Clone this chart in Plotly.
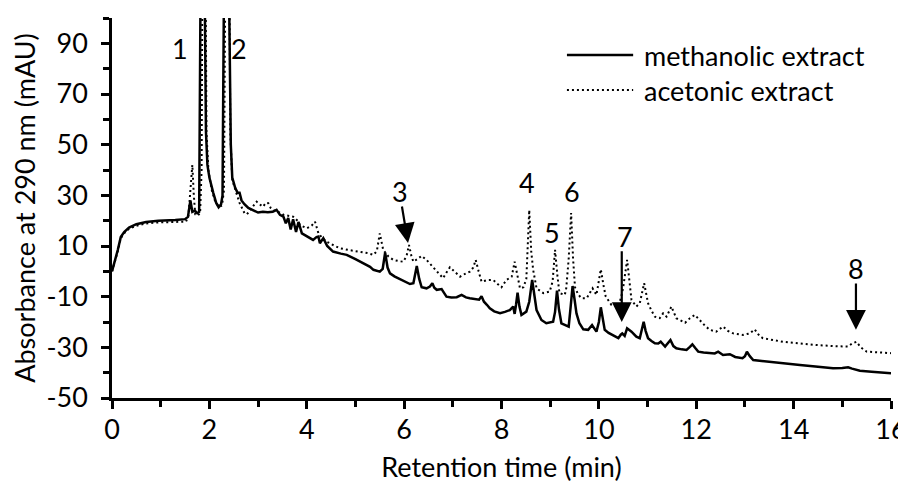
import plotly.graph_objects as go

# ---------------- data ----------------
meth_t = [0.00, 0.06, 0.12, 0.18, 0.25, 0.35, 0.50, 0.70, 0.95, 1.30, 1.50, 1.56, 1.58, 1.61, 1.65, 1.70, 1.75, 1.79,
          1.815, 1.865, 1.90, 1.93, 1.96, 2.00, 2.08, 2.14, 2.19, 2.24, 2.27, 2.35, 2.41, 2.44, 2.47, 2.53, 2.58, 2.62,
          2.66, 2.72, 2.80, 2.90, 3.00, 3.10, 3.20, 3.30, 3.38, 3.45, 3.52, 3.57, 3.62, 3.67, 3.72, 3.78, 3.83, 3.90,
          3.95, 4.05, 4.13, 4.20, 4.24, 4.27, 4.34, 4.42, 4.54, 4.70, 4.82, 5.00, 5.16, 5.30, 5.37, 5.50, 5.56, 5.61,
          5.66, 5.71, 5.80, 5.91, 6.00, 6.12, 6.19, 6.22, 6.26, 6.31, 6.36, 6.46, 6.53, 6.58, 6.62, 6.67, 6.77, 6.82,
          6.87, 6.97, 7.08, 7.18, 7.27, 7.35, 7.45, 7.54, 7.59, 7.64, 7.70, 7.76, 7.85, 7.97, 8.07, 8.17, 8.24, 8.27,
          8.30, 8.33, 8.37, 8.41, 8.51, 8.57, 8.63, 8.68, 8.72, 8.82, 8.92, 9.06, 9.10, 9.14, 9.18, 9.23, 9.33, 9.38,
          9.42, 9.46, 9.50, 9.54, 9.60, 9.68, 9.78, 9.86, 9.95, 10.00, 10.04, 10.08, 10.12, 10.20, 10.29, 10.40, 10.45,
          10.48, 10.53, 10.58, 10.67, 10.77, 10.84, 10.88, 10.92, 10.96, 11.01, 11.08, 11.15, 11.22, 11.27, 11.36,
          11.42, 11.47, 11.53, 11.59, 11.70, 11.80, 11.87, 11.92, 11.98, 12.04, 12.15, 12.28, 12.38, 12.45, 12.55,
          12.69, 12.80, 12.95, 13.00, 13.04, 13.10, 13.17, 13.30, 13.58, 14.13, 14.50, 14.81, 15.00, 15.12, 15.20,
          15.36, 15.60, 16.00]
meth_v = [0.0, 4.0, 8.5, 13.5, 15.5, 17.3, 18.6, 19.5, 20.0, 20.3, 20.6, 21.5, 24.0, 28.0, 23.5, 24.0, 23.0, 23.5,
          100.0, 250.0, 120.0, 55.0, 42.0, 37.0, 31.0, 27.0, 25.3, 26.5, 30.0, 250.0, 100.0, 50.0, 37.0, 33.0, 31.0, 31.0,
          28.0, 26.5, 25.0, 24.0, 23.2, 23.5, 23.3, 23.5, 24.3, 22.3, 21.6, 19.0, 21.0, 16.5, 20.5, 15.5, 19.5, 15.0,
          14.5, 13.5, 12.4, 13.5, 13.7, 11.1, 13.1, 10.0, 7.8, 7.0, 6.5, 4.8, 3.2, 1.8, 0.6, -0.1, 1.0, 7.4,
          1.5, -0.8, -2.0, -3.1, -3.8, -5.0, -4.7, -2.0, 2.1, -3.0, -6.3, -6.7, -6.0, -4.7, -6.5, -7.3, -7.0, -8.5,
          -10.0, -10.3, -10.2, -9.3, -10.3, -10.6, -11.0, -11.2, -9.8, -12.0, -13.2, -14.6, -15.8, -16.5, -16.0, -15.3, -13.9, -16.8,
          -13.0, -8.4, -14.0, -17.2, -15.9, -12.0, -3.4, -11.0, -15.3, -19.2, -20.5, -19.9, -16.0, -7.6, -15.0, -20.5, -21.2, -21.8,
          -14.0, -5.8, -11.0, -16.6, -20.5, -22.9, -23.1, -21.2, -23.8, -20.0, -14.2, -19.5, -23.1, -24.3, -25.1, -26.4, -25.0,
          -24.5, -25.5, -22.5, -23.8, -25.8, -26.4, -23.5, -19.9, -23.5, -26.4, -27.5, -28.4, -28.5, -27.8, -29.7,
          -28.5, -27.1, -29.5, -30.4, -30.8, -31.0, -29.8, -28.8, -30.3, -31.7, -32.0, -32.3, -32.4, -31.7, -33.0,
          -32.7, -33.8, -34.3, -33.5, -31.7, -33.5, -35.0, -35.3, -35.7, -37.0, -37.7, -38.3, -38.2, -37.9, -38.4,
          -39.2, -39.6, -40.2]

acet_t = [0.00, 0.06, 0.12, 0.18, 0.25, 0.35, 0.50, 0.70, 0.95, 1.30, 1.52, 1.57, 1.61, 1.65, 1.68, 1.71, 1.76, 1.81,
          1.84, 1.885, 1.94, 1.98, 2.05, 2.12, 2.20, 2.26, 2.30, 2.37, 2.43, 2.47, 2.52, 2.57, 2.62, 2.67, 2.72, 2.77,
          2.83, 2.90, 2.97, 3.03, 3.10, 3.16, 3.21, 3.26, 3.31, 3.40, 3.48, 3.52, 3.60, 3.67, 3.72, 3.76, 3.83, 3.86,
          4.00, 4.10, 4.17, 4.21, 4.24, 4.32, 4.41, 4.55, 4.68, 4.90, 5.09, 5.25, 5.37, 5.44, 5.50, 5.54, 5.57, 5.68,
          5.78, 5.90, 5.98, 6.05, 6.10, 6.15, 6.19, 6.27, 6.36, 6.46, 6.53, 6.60, 6.70, 6.80, 6.87, 6.94, 7.03, 7.15,
          7.25, 7.35, 7.42, 7.47, 7.53, 7.59, 7.70, 7.83, 7.92, 8.00, 8.10, 8.21, 8.27, 8.33, 8.38, 8.45, 8.51, 8.57,
          8.61, 8.65, 8.72, 8.86, 8.99, 9.05, 9.10, 9.15, 9.19, 9.30, 9.33, 9.38, 9.43, 9.47, 9.51, 9.57, 9.64, 9.75,
          9.82, 9.87, 9.95, 10.00, 10.04, 10.09, 10.14, 10.26, 10.40, 10.46, 10.50, 10.58, 10.62, 10.67, 10.77, 10.84,
          10.93, 10.97, 11.01, 11.08, 11.15, 11.25, 11.32, 11.39, 11.49, 11.59, 11.68, 11.77, 11.87, 11.97, 12.07,
          12.18, 12.28, 12.41, 12.55, 12.65, 12.76, 12.96, 13.10, 13.20, 13.30, 13.37, 13.78, 14.10, 14.47, 14.81,
          15.12, 15.20, 15.29, 15.38, 15.50, 15.75, 16.00]
acet_v = [0.0, 3.8, 8.0, 13.0, 15.0, 16.8, 18.0, 18.9, 19.3, 19.5, 19.6, 22.0, 33.0, 42.0, 30.0, 22.5, 22.0, 23.0,
          40.0, 250.0, 55.0, 40.0, 32.0, 27.5, 25.5, 26.0, 32.0, 250.0, 55.0, 36.0, 33.0, 30.0, 27.0, 25.0, 23.0, 22.5,
          24.0, 25.5, 27.5, 26.5, 25.5, 27.0, 26.9, 25.0, 24.2, 23.5, 23.0, 22.3, 22.0, 21.5, 21.6, 21.0, 19.5, 18.3,
          17.0, 18.0, 19.6, 17.0, 15.0, 13.2, 11.7, 10.3, 9.1, 8.3, 7.8, 7.2, 6.5, 8.0, 15.0, 11.0, 8.5, 5.8,
          4.5, 4.0, 3.8, 6.0, 10.4, 6.0, 3.8, 4.8, 6.1, 4.5, 3.0, 1.2, -0.8, -2.7, -0.5, 1.6, 0.0, -2.1,
          -1.0, -0.1, 1.5, 4.5, 0.0, -4.1, -3.5, -3.4, -5.0, -6.3, -3.4, -2.1, 3.8, -2.0, -6.7, -6.3, -3.0, 24.2,
          8.0, 0.6, -6.7, -8.6, -8.0, -4.0, 8.5, -2.0, -8.6, -9.3, -6.7, 5.0, 23.0, 5.0, -6.3, -9.0, -10.6, -10.6,
          -8.5, -6.7, -9.3, -4.0, 0.8, -5.0, -9.9, -13.3, -13.9, -10.0, -6.3, 4.5, -3.0, -11.3, -13.9, -12.6,
          -4.7, -9.0, -12.6, -15.5, -17.9, -18.5, -16.6, -17.9, -13.9, -18.5, -19.5, -20.3, -18.5, -17.2, -19.2,
          -21.5, -23.1, -23.8, -21.8, -23.5, -24.5, -25.1, -24.5, -22.9, -25.5, -26.4, -27.8, -28.5, -29.1, -29.5,
          -29.7, -28.5, -27.8, -30.0, -31.7, -32.0, -32.3]

series_names = ["methanolic extract", "acetonic extract"]

x_tick_vals = [0, 2, 4, 6, 8, 10, 12, 14, 16]
x_tick_text = ["0", "2", "4", "6", "8", "10", "12", "14", "16"]
y_tick_vals = [-50, -30, -10, 10, 30, 50, 70, 90]
y_tick_text = ["-50", "-30", "-10", "10", "30", "50", "70", "90"]

peak_labels = ["1", "2", "3", "4", "5", "6", "7", "8"]
peak_label_x = [1.40, 2.61, 5.91, 8.52, 9.04, 9.45, 10.53, 15.28]
peak_label_y = [87.8, 87.8, 31.4, 34.9, 15.2, 31.4, 13.6, 1.3]

arrow_tail_x = [5.95, 10.47, 15.28]
arrow_tail_y = [26.2, 8.5, -4.2]
arrow_tip_x = [6.08, 10.47, 15.28]
arrow_tip_y = [11.2, -20.0, -23.1]

FONT = "Lato, 'Open Sans', sans-serif"
FS = 27

fig = go.Figure()
fig.add_trace(go.Scatter(x=meth_t, y=meth_v, mode="lines", name=series_names[0], showlegend=False,
                         line=dict(color="black", width=2.5)))
fig.add_trace(go.Scatter(x=acet_t, y=acet_v, mode="lines", name=series_names[1], showlegend=False,
                         line=dict(color="black", width=2, dash="2px,3px")))

annotations = []
for lab, lx, ly in zip(peak_labels, peak_label_x, peak_label_y):
    annotations.append(dict(x=lx, y=ly, xref="x", yref="y", text=lab, showarrow=False,
                            font=dict(size=FS, color="black", family=FONT)))
for tx, ty, hx, hy in zip(arrow_tail_x, arrow_tail_y, arrow_tip_x, arrow_tip_y):
    annotations.append(dict(x=hx, y=hy, xref="x", yref="y", ax=tx, ay=ty, axref="x", ayref="y",
                            text="", showarrow=True, arrowhead=2, arrowsize=1.8, arrowwidth=2.2,
                            arrowcolor="black", standoff=0))

# legend (drawn as key lines + labels, Excel-style long key lines)
legend_y = [0.9026, 0.8105]
legend_dash = ["solid", "2px,3px"]
legend_width = [2.5, 2]
shapes = []
for name, ly, dash, lw in zip(series_names, legend_y, legend_dash, legend_width):
    shapes.append(dict(type="line", xref="paper", yref="paper", x0=0.584, x1=0.669, y0=ly, y1=ly,
                       line=dict(color="black", width=lw, dash=dash)))
    annotations.append(dict(x=0.680, y=ly, xref="paper", yref="paper", xanchor="left", yanchor="middle",
                            text=name, showarrow=False, font=dict(size=FS, color="black", family=FONT)))

axis_common = dict(showline=True, linecolor="black", linewidth=2.5, showgrid=False, zeroline=False,
                   ticks="outside", ticklen=8, tickwidth=2.5, tickcolor="black", automargin=False,
                   ticklabeloverflow="allow",
                   tickfont=dict(size=FS, color="black", family=FONT))

# the page body has an 8px default margin, so the figure is sized/offset to compensate
fig.update_layout(
    width=898, height=475, autosize=False,
    margin=dict(l=104, r=15, t=10, b=85),
    paper_bgcolor="white", plot_bgcolor="white",
    font=dict(family=FONT, size=FS, color="black"),
    showlegend=False,
    xaxis=dict(range=[0, 16], tickmode="array", tickvals=x_tick_vals, ticktext=x_tick_text,
               minor=dict(dtick=1, tick0=0, ticks="outside", ticklen=6, tickwidth=2.5, tickcolor="black", showgrid=False),
               ticklabelstandoff=-2,
               title=dict(text="Retention time (min)", font=dict(size=FS, family=FONT), standoff=24),
               **axis_common),
    yaxis=dict(range=[-50, 100], tickmode="array", tickvals=y_tick_vals, ticktext=y_tick_text,
               minor=dict(dtick=10, tick0=-50, ticks="outside", ticklen=6, tickwidth=2.5, tickcolor="black", showgrid=False),
               ticklabelstandoff=8,
               title=dict(text="Absorbance at 290 nm (mAU)", font=dict(size=FS, family=FONT), standoff=6),
               **axis_common),
    shapes=shapes,
    annotations=annotations,
)

fig.write_html("out.html")
